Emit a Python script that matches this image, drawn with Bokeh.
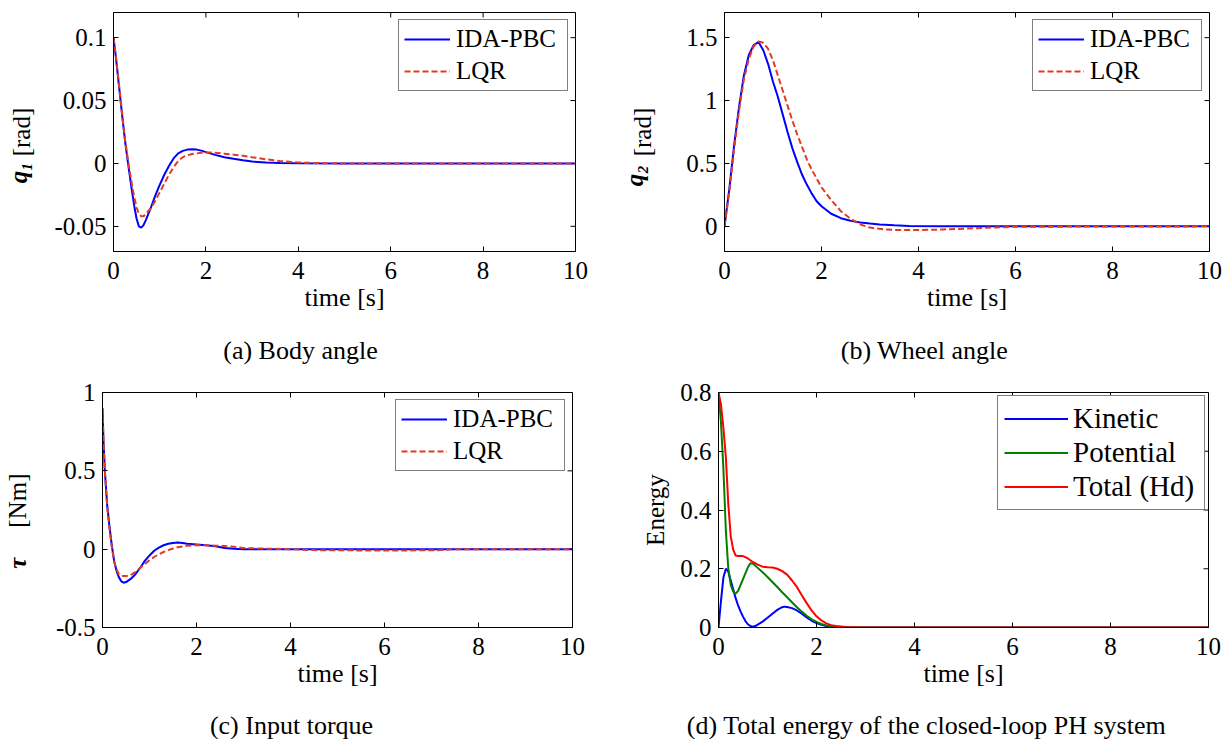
import math
from bokeh.plotting import figure
from bokeh.layouts import column, row
from bokeh.models import FixedTicker, Label, Range1d, LinearAxis
from bokeh.embed import file_html
from bokeh.resources import INLINE

FONT = "Liberation Serif"
NBSP = "\u00a0"

# ---------------- data ----------------
time_ticks = [0, 2, 4, 6, 8, 10]

# (a) body angle q1
t_q1_ida = [0, 0.05, 0.1, 0.15, 0.2, 0.25, 0.3, 0.35, 0.4, 0.45, 0.5, 0.55, 0.6, 0.65, 0.7, 0.8, 0.9, 1.0, 1.1, 1.2,
            1.3, 1.4, 1.5, 1.6, 1.7, 1.8, 1.9, 2.0, 2.2, 2.4, 2.6, 2.8, 3.0, 3.3, 3.6, 4.0, 5.0, 10.0]
q1_ida = [0.1, 0.085, 0.068, 0.051, 0.034, 0.018, 0.004, -0.009, -0.022, -0.034, -0.044, -0.05, -0.051, -0.049,
          -0.045, -0.036, -0.026, -0.017, -0.009, -0.002, 0.004, 0.008, 0.01, 0.011, 0.0113, 0.011, 0.0102, 0.009,
          0.0068, 0.005, 0.0037, 0.0025, 0.0015, 0.0008, 0.0004, 0.0001, 0.0, 0.0]
t_q1_lqr = [0, 0.05, 0.1, 0.15, 0.2, 0.25, 0.3, 0.35, 0.4, 0.45, 0.5, 0.55, 0.6, 0.65, 0.7, 0.8, 0.9, 1.0, 1.1, 1.2,
            1.3, 1.4, 1.5, 1.6, 1.7, 1.8, 1.9, 2.0, 2.2, 2.4, 2.6, 2.8, 3.0, 3.3, 3.6, 4.0, 4.5, 5.0, 10.0]
q1_lqr = [0.1, 0.086, 0.069, 0.052, 0.035, 0.019, 0.006, -0.006, -0.017, -0.027, -0.035, -0.04, -0.042, -0.042,
          -0.04, -0.036, -0.03, -0.023, -0.016, -0.009, -0.003, 0.002, 0.005, 0.0065, 0.0075, 0.008, 0.0085, 0.0088,
          0.0085, 0.0078, 0.007, 0.0062, 0.005, 0.0033, 0.002, 0.0008, 0.0002, 0.0, 0.0]
q1_ticks = [-0.05, 0, 0.05, 0.1]
q1_tick_labels = ["-0.05", "0", "0.05", "0.1"]

# (b) wheel angle q2
t_q2_ida = [0, 0.1, 0.2, 0.3, 0.4, 0.5, 0.6, 0.7, 0.8, 0.9, 1.0, 1.1, 1.2, 1.3, 1.4, 1.5, 1.6, 1.7, 1.8, 1.9, 2.0,
            2.2, 2.4, 2.6, 2.8, 3.0, 3.2, 3.5, 3.8, 4.5, 10.0]
q2_ida = [0, 0.3, 0.65, 0.95, 1.2, 1.36, 1.44, 1.465, 1.40, 1.29, 1.15, 1.03, 0.89, 0.75, 0.62, 0.51, 0.41, 0.33,
          0.26, 0.2, 0.16, 0.1, 0.065, 0.045, 0.03, 0.022, 0.015, 0.008, 0.003, 0.0, 0.0]
t_q2_lqr = [0, 0.1, 0.2, 0.3, 0.4, 0.5, 0.6, 0.7, 0.8, 0.9, 1.0, 1.1, 1.2, 1.3, 1.4, 1.5, 1.6, 1.7, 1.8, 1.9, 2.0,
            2.2, 2.4, 2.6, 2.8, 3.0, 3.3, 3.6, 4.0, 4.5, 5.0, 5.5, 6.0, 10.0]
q2_lqr = [0, 0.28, 0.62, 0.92, 1.17, 1.33, 1.43, 1.47, 1.46, 1.41, 1.32, 1.2, 1.08, 0.96, 0.84, 0.73, 0.63, 0.53,
          0.45, 0.38, 0.31, 0.21, 0.12, 0.06, 0.015, -0.01, -0.025, -0.03, -0.03, -0.025, -0.018, -0.01, -0.003, 0.0]
q2_ticks = [0, 0.5, 1, 1.5]
q2_tick_labels = ["0", "0.5", "1", "1.5"]

# (c) input torque
t_tau_ida = [0, 0.02, 0.05, 0.1, 0.15, 0.2, 0.25, 0.3, 0.35, 0.4, 0.45, 0.5, 0.6, 0.7, 0.8, 0.9, 1.0, 1.1, 1.2, 1.3,
             1.4, 1.5, 1.6, 1.7, 1.8, 2.0, 2.2, 2.4, 2.6, 2.8, 3.0, 10.0]
tau_ida = [0.9, 0.7, 0.5, 0.28, 0.14, 0.02, -0.08, -0.14, -0.18, -0.205, -0.214, -0.21, -0.19, -0.16, -0.12, -0.075,
           -0.04, -0.01, 0.01, 0.025, 0.035, 0.04, 0.042, 0.04, 0.035, 0.03, 0.025, 0.018, 0.008, 0.002, 0.0, 0.0]
t_tau_lqr = [0, 0.02, 0.05, 0.1, 0.15, 0.2, 0.25, 0.3, 0.35, 0.4, 0.45, 0.5, 0.6, 0.7, 0.8, 0.9, 1.0, 1.1, 1.2, 1.3,
             1.4, 1.5, 1.6, 1.8, 2.0, 2.2, 2.4, 2.6, 2.8, 3.0, 3.5, 4.0, 4.5, 5.5, 6.5, 7.2, 7.5, 10.0]
tau_lqr = [0.9, 0.7, 0.5, 0.27, 0.13, 0.01, -0.08, -0.13, -0.16, -0.17, -0.172, -0.172, -0.165, -0.145, -0.12,
           -0.095, -0.07, -0.05, -0.032, -0.018, -0.006, 0.004, 0.012, 0.022, 0.026, 0.025, 0.022, 0.02, 0.015,
           0.007, 0.003, 0.0, -0.006, -0.008, -0.008, -0.006, 0.0, 0.0]
tau_ticks = [-0.5, 0, 0.5, 1]
tau_tick_labels = ["-0.5", "0", "0.5", "1"]

# (d) energy
t_kin = [0, 0.05, 0.1, 0.15, 0.2, 0.25, 0.3, 0.35, 0.4, 0.45, 0.5, 0.55, 0.6, 0.65, 0.7, 0.75, 0.8, 0.9, 1.0, 1.1,
         1.2, 1.3, 1.35, 1.4, 1.5, 1.6, 1.7, 1.8, 1.9, 2.0, 2.1, 2.2, 2.4, 2.6, 10.0]
kinetic = [0, 0.09, 0.17, 0.2, 0.19, 0.16, 0.13, 0.1, 0.075, 0.055, 0.037, 0.022, 0.011, 0.005, 0.003, 0.005, 0.01,
           0.02, 0.033, 0.047, 0.06, 0.069, 0.071, 0.07, 0.066, 0.058, 0.047, 0.034, 0.023, 0.015, 0.009, 0.005,
           0.001, 0.0, 0.0]
t_pot = [0, 0.05, 0.1, 0.15, 0.2, 0.25, 0.3, 0.35, 0.4, 0.5, 0.6, 0.65, 0.7, 0.8, 0.9, 1.0, 1.1, 1.2, 1.3, 1.4, 1.5,
         1.6, 1.7, 1.8, 1.9, 2.0, 2.1, 2.2, 2.4, 2.6, 10.0]
potential = [0.8, 0.7, 0.54, 0.33, 0.2, 0.145, 0.122, 0.115, 0.125, 0.165, 0.205, 0.219, 0.218, 0.203, 0.188, 0.172,
             0.155, 0.138, 0.12, 0.103, 0.086, 0.069, 0.054, 0.04, 0.028, 0.019, 0.012, 0.007, 0.002, 0.0, 0.0]
t_tot = [0, 0.05, 0.1, 0.15, 0.2, 0.25, 0.3, 0.35, 0.4, 0.5, 0.6, 0.7, 0.8, 0.9, 1.0, 1.1, 1.2, 1.3, 1.4, 1.5, 1.6,
         1.7, 1.8, 1.9, 2.0, 2.1, 2.2, 2.3, 2.4, 2.6, 2.8, 10.0]
total = [0.8, 0.76, 0.68, 0.58, 0.42, 0.31, 0.265, 0.245, 0.243, 0.243, 0.235, 0.223, 0.214, 0.207, 0.205, 0.204,
         0.2, 0.192, 0.18, 0.16, 0.138, 0.11, 0.083, 0.058, 0.038, 0.024, 0.014, 0.008, 0.005, 0.002, 0.0, 0.0]
e_ticks = [0, 0.2, 0.4, 0.6, 0.8]
e_tick_labels = ["0", "0.2", "0.4", "0.6", "0.8"]

BLUE = "#0000FF"
RED_DASH = "#E33B1F"
GREEN = "#008000"
RED = "#FF0000"
UP = math.pi / 2


def make_fig(width, height, bl, br, bt, bb, yr, yticks, ylabels, ylabel, ylabel_standoff):
    p = figure(width=width, height=height, x_range=Range1d(0, 10), y_range=Range1d(*yr),
               output_backend="svg", toolbar_location=None,
               min_border_left=bl, min_border_right=br, min_border_top=bt, min_border_bottom=bb)
    p.grid.visible = False
    p.outline_line_color = "black"
    p.background_fill_color = "white"
    p.border_fill_color = "white"
    xa = p.xaxis[0]
    xa.ticker = FixedTicker(ticks=time_ticks)
    xa.axis_label = "time [s]"
    xa.axis_label_text_font_size = "26px"
    xa.axis_label_standoff = 1
    xa.major_label_standoff = 10
    ya = p.yaxis[0]
    ya.ticker = FixedTicker(ticks=yticks)
    ya.major_label_overrides = {v: s for v, s in zip(yticks, ylabels)}
    ya.major_label_standoff = 7
    ya.axis_label = ylabel
    ya.axis_label_text_font_size = "25px"
    ya.axis_label_standoff = ylabel_standoff
    for ax in (xa, ya):
        ax.axis_label_text_font = FONT
        ax.axis_label_text_font_style = "normal"
        ax.axis_label_text_color = "black"
        ax.major_label_text_font = FONT
        ax.major_label_text_font_size = "25px"
        ax.major_label_text_color = "black"
        ax.major_tick_in = 5
        ax.major_tick_out = 0
        ax.minor_tick_line_color = None
        ax.axis_line_color = "black"
        ax.major_tick_line_color = "black"
    # inward tick marks on the top and right edges of the box
    p.ray(x=time_ticks, y=[yr[1]] * len(time_ticks), length=5, length_units="screen",
          angle=-UP, color="black", line_width=1)
    p.ray(x=[10] * len(yticks), y=yticks, length=5, length_units="screen",
          angle=math.pi, color="black", line_width=1)
    return p


def add_symbol_label(p, text, standoff):
    """Bold-italic symbol part of the y label, set on a tick-less extra left axis."""
    ax = LinearAxis(ticker=FixedTicker(ticks=[]), axis_line_color=None, major_tick_line_color=None,
                    minor_tick_line_color=None, major_tick_in=0, major_tick_out=0,
                    minor_tick_in=0, minor_tick_out=0, major_label_standoff=0,
                    axis_label=text, axis_label_standoff=standoff, axis_label_text_font=FONT,
                    axis_label_text_font_size="25px", axis_label_text_font_style="bold italic",
                    axis_label_text_color="black")
    p.add_layout(ax, "left")


def style_legend(p, size, padding, spacing, lh, gw, standoff, lw, margin):
    lg = p.legend[0]
    lg.location = "top_right"
    lg.margin = margin
    lg.padding = padding
    lg.spacing = spacing
    lg.label_height = lh
    lg.glyph_height = lh
    lg.glyph_width = gw
    lg.label_standoff = standoff
    lg.label_width = lw
    lg.label_text_font = FONT
    lg.label_text_font_size = f"{size}px"
    lg.label_text_color = "black"
    lg.border_line_color = "black"
    lg.border_line_width = 1
    lg.background_fill_color = "white"
    lg.background_fill_alpha = 1.0


def caption_fig(width, height, text, x, y):
    f = figure(width=width, height=height, output_backend="svg", toolbar_location=None,
               x_axis_location=None, y_axis_location=None, min_border=0,
               x_range=Range1d(0, 1), y_range=Range1d(0, 1))
    f.grid.visible = False
    f.outline_line_color = None
    f.background_fill_color = "white"
    f.border_fill_color = "white"
    f.add_layout(Label(x=x, y=y, x_units="screen", y_units="screen", text=text,
                       text_font=FONT, text_font_size="26px", text_font_style="normal",
                       text_align="center", text_baseline="middle", text_color="black"))
    return f


# ---------- row 1 ----------
pa = make_fig(608, 318, 113, 33, 12, 67, (-0.07, 0.12), q1_ticks, q1_tick_labels, "[rad]", 16)
pa.line(t_q1_ida, q1_ida, color=BLUE, line_width=2, legend_label="IDA-PBC")
pa.line(t_q1_lqr, q1_lqr, color=RED_DASH, line_width=2, line_dash="6 3", legend_label="LQR")
style_legend(pa, 25, 5, 4, 28, 46, 6, 106, 7)
add_symbol_label(pa, "q\u2081" + NBSP * 13, -26)

pb = make_fig(614, 318, 116, 13, 12, 66, (-0.2, 1.7), q2_ticks, q2_tick_labels, "[rad]", 27)
pb.line(t_q2_ida, q2_ida, color=BLUE, line_width=2, legend_label="IDA-PBC")
pb.line(t_q2_lqr, q2_lqr, color=RED_DASH, line_width=2, line_dash="6 3", legend_label="LQR")
style_legend(pb, 25, 5, 4, 28, 46, 6, 106, 7)
add_symbol_label(pb, "q\u2082" + NBSP * 14, -21)

cap_a = caption_fig(608, 58, "(a) Body angle", 300, 26)
cap_b = caption_fig(614, 58, "(b) Wheel angle", 316, 26)

# ---------- row 2 ----------
pc = make_fig(608, 314, 102, 36, 15, 63, (-0.5, 1.0), tau_ticks, tau_tick_labels, NBSP * 3 + "[Nm]", 22)
pc.line(t_tau_ida, tau_ida, color=BLUE, line_width=2, legend_label="IDA-PBC")
pc.line(t_tau_lqr, tau_lqr, color=RED_DASH, line_width=2, line_dash="6 3", legend_label="LQR")
style_legend(pc, 25, 5, 4, 28, 46, 6, 106, 7)
add_symbol_label(pc, "τ" + NBSP * 17, -30)

pd = make_fig(614, 314, 110, 14, 16, 63, (0, 0.8), e_ticks, e_tick_labels, "Energy", 8)
pd.line(t_kin, kinetic, color=BLUE, line_width=2, legend_label="Kinetic")
pd.line(t_pot, potential, color=GREEN, line_width=2, legend_label="Potential")
pd.line(t_tot, total, color=RED, line_width=2, legend_label="Total (Hd)")
style_legend(pd, 29, 6, 1, 31, 64, 5, 125, 3)

cap_c = caption_fig(608, 49, "(c) Input torque", 291, 14)
cap_d = caption_fig(614, 49, "(d) Total energy of the closed-loop PH system", 318, 14)

layout = column(
    row(pa, pb, spacing=0),
    row(cap_a, cap_b, spacing=0),
    row(pc, pd, spacing=0),
    row(cap_c, cap_d, spacing=0),
    spacing=0,
)

open("out.html", "w").write(file_html(layout, INLINE))
